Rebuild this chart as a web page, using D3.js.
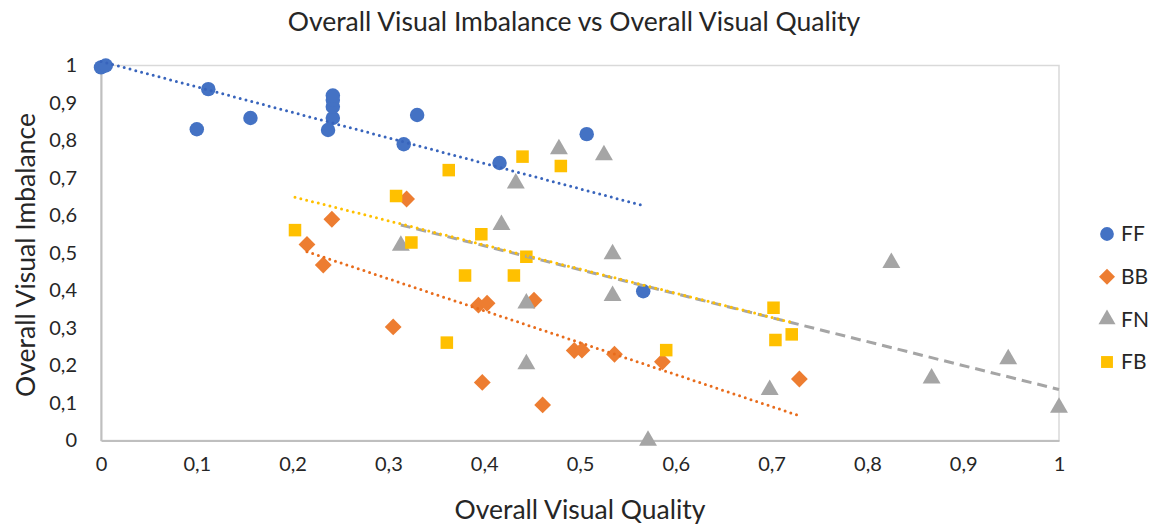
<!DOCTYPE html>
<html>
<head>
<meta charset="utf-8">
<script src="https://cdn.jsdelivr.net/npm/d3@7"></script>
<style>
  body { margin: 0; background: #fff; }
  text { font-family: Lato, "Open Sans", sans-serif; fill: #262626; }
</style>
</head>
<body>
<svg id="chart" width="1160" height="524"></svg>
<script>
// ---- Data ----
const seriesNames = ["FF", "BB", "FN", "FB"];
const seriesColors = ["#4472C4", "#ED7D31", "#A5A5A5", "#FFC000"];

const ffX = [0, 0.005, 0.100, 0.112, 0.156, 0.237, 0.242, 0.242, 0.242, 0.242, 0.316, 0.330, 0.416, 0.507, 0.566];
const ffY = [0.995, 1.000, 0.830, 0.937, 0.860, 0.828, 0.860, 0.890, 0.908, 0.920, 0.790, 0.868, 0.740, 0.817, 0.398];

const bbX = [0.215, 0.232, 0.241, 0.305, 0.319, 0.394, 0.398, 0.403, 0.452, 0.461, 0.494, 0.502, 0.536, 0.586, 0.729];
const bbY = [0.523, 0.468, 0.590, 0.303, 0.644, 0.361, 0.155, 0.366, 0.374, 0.095, 0.240, 0.241, 0.230, 0.210, 0.164];

const fnX = [0.313, 0.418, 0.433, 0.444, 0.444, 0.478, 0.525, 0.534, 0.534, 0.571, 0.698, 0.825, 0.867, 0.947, 1.000];
const fnY = [0.520, 0.575, 0.686, 0.366, 0.204, 0.777, 0.761, 0.497, 0.386, 0.000, 0.135, 0.474, 0.166, 0.217, 0.088];

const fbX = [0.2025, 0.308, 0.324, 0.361, 0.363, 0.380, 0.397, 0.431, 0.440, 0.444, 0.480, 0.590, 0.702, 0.704, 0.721];
const fbY = [0.561, 0.652, 0.528, 0.261, 0.721, 0.440, 0.550, 0.440, 0.757, 0.490, 0.732, 0.241, 0.354, 0.268, 0.283];

const xTicks = [0, 0.1, 0.2, 0.3, 0.4, 0.5, 0.6, 0.7, 0.8, 0.9, 1];
const yTicks = [0, 0.1, 0.2, 0.3, 0.4, 0.5, 0.6, 0.7, 0.8, 0.9, 1];

const chartTitle = "Overall Visual Imbalance vs Overall Visual Quality";
const xTitle = "Overall Visual Quality";
const yTitle = "Overall Visual Imbalance";

// ---- Layout ----
const svg = d3.select("#chart");
const plot = { left: 101, right: 1059, top: 65.5, bottom: 440.5 };

const x = d3.scaleLinear().domain([0, 1]).range([plot.left, plot.right]);
const y = d3.scaleLinear().domain([0, 1]).range([plot.bottom, plot.top]);

const fmt = v => d3.format("~g")(v).replace(".", ",");

// plot border
svg.append("rect")
  .attr("x", plot.left).attr("y", plot.top)
  .attr("width", plot.right - plot.left).attr("height", plot.bottom - plot.top)
  .attr("fill", "none").attr("stroke", "#d9d9d9").attr("stroke-width", 1.5);

// axes
const xAxis = d3.axisBottom(x).tickValues(xTicks).tickFormat(fmt).tickSize(0).tickPadding(16);
const gx = svg.append("g").attr("transform", `translate(0,${plot.bottom})`).call(xAxis);
gx.select(".domain").attr("stroke", "#bfbfbf").attr("stroke-width", 2);
gx.selectAll("text").attr("font-size", 20).attr("font-family", "Lato").attr("fill", "#262626");

const yAxis = d3.axisLeft(y).tickValues(yTicks).tickFormat(fmt).tickSize(0).tickPadding(24);
const gy = svg.append("g").attr("transform", `translate(${plot.left},0)`).call(yAxis);
gy.select(".domain").attr("stroke", "#bfbfbf").attr("stroke-width", 2);
gy.selectAll("text").attr("font-size", 20).attr("font-family", "Lato").attr("fill", "#262626");

// titles
svg.append("text").attr("x", 574).attr("y", 31).attr("text-anchor", "middle")
  .attr("font-size", 26.5).text(chartTitle);
svg.append("text").attr("x", 580).attr("y", 519).attr("text-anchor", "middle")
  .attr("font-size", 26.5).text(xTitle);
svg.append("text").attr("transform", "translate(35,255) rotate(-90)").attr("text-anchor", "middle")
  .attr("font-size", 26.5).text(yTitle);

// ---- Series ----
const allX = [ffX, bbX, fnX, fbX];
const allY = [ffY, bbY, fnY, fbY];
const symbols = [d3.symbolCircle, d3.symbolDiamond2, d3.symbolTriangle2, d3.symbolSquare2];
const symSizes = [165, 180, 230, 200];

const series = seriesNames.map((name, i) => ({
  name, color: seriesColors[i], symbol: symbols[i], size: symSizes[i],
  points: allX[i].map((vx, j) => ({ x: vx, y: allY[i][j] }))
}));

const markers = svg.append("g");
series.forEach(s => {
  markers.append("g").selectAll("path").data(s.points).join("path")
    .attr("transform", d => `translate(${x(d.x)},${y(d.y)})`)
    .attr("d", d3.symbol(s.symbol, s.size))
    .attr("fill", s.color);
});

// linear trendlines (least squares), spanning each series' x range
function regression(pts) {
  const mx = d3.mean(pts, d => d.x), my = d3.mean(pts, d => d.y);
  const sxy = d3.sum(pts, d => (d.x - mx) * (d.y - my));
  const sxx = d3.sum(pts, d => (d.x - mx) ** 2);
  const b = sxy / sxx, a = my - b * mx;
  const [x0, x1] = d3.extent(pts, d => d.x);
  return [{ x: x0, y: a + b * x0 }, { x: x1, y: a + b * x1 }];
}
const line = d3.line().x(d => x(d.x)).y(d => y(d.y));
const trendStyles = [
  { dash: "0 6", width: 3, cap: "round", color: "#3864BC" },
  { dash: "0 6", width: 3, cap: "round", color: "#E86C1C" },
  { dash: "10 6", width: 3, cap: "butt", color: "#A5A5A5" },
  { dash: "0 6", width: 3, cap: "round", color: "#FFC000" }
];
const trendOrder = [2, 0, 1, 3];
trendOrder.forEach(i => {
  const s = series[i], st = trendStyles[i];
  svg.append("path").datum(regression(s.points)).attr("d", line)
    .attr("fill", "none").attr("stroke", st.color).attr("stroke-width", st.width)
    .attr("stroke-dasharray", st.dash).attr("stroke-linecap", st.cap);
});

// legend
const legendY = d3.scalePoint().domain(seriesNames).range([234, 362]);
const lg = svg.append("g");
series.forEach(s => {
  const cy = legendY(s.name);
  lg.append("path").attr("transform", `translate(1107,${cy})`)
    .attr("d", d3.symbol(s.symbol, s.size * 0.9)).attr("fill", s.color);
  lg.append("text").attr("x", 1121).attr("y", cy).attr("dy", "0.35em")
    .attr("font-size", 21).text(s.name);
});
</script>
</body>
</html>
